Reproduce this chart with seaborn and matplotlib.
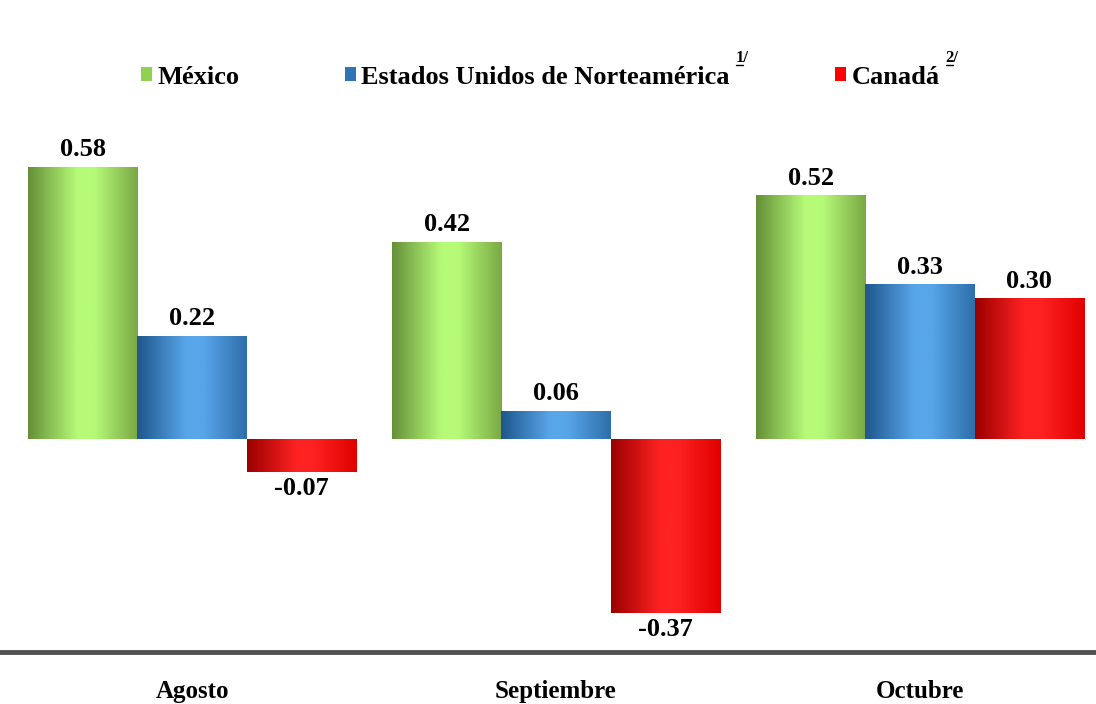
import numpy as np
import pandas as pd
import matplotlib
matplotlib.use('Agg')
import matplotlib.pyplot as plt
import matplotlib.colors as mcolors
from matplotlib.patches import Patch
from matplotlib.lines import Line2D
import seaborn as sns

# data
months = ['Agosto', 'Septiembre', 'Octubre']
countries = ['México', 'Estados Unidos de Norteamérica', 'Canadá']
mexico = [0.58, 0.42, 0.52]
usa = [0.22, 0.06, 0.33]
canada = [-0.07, -0.37, 0.30]
notes = ['', '1/', '2/']

colors = ['#92d050', '#2e75b6', '#ff0000']
# edge / centre / edge for the cylinder look
shades = [('#668f38', '#b6fb78', '#7ba845'),
          ('#1f568c', '#58a6ea', '#2e6eaa'),
          ('#9a0000', '#ff2222', '#e00000')]

df = pd.DataFrame({
    'Mes': months * 3,
    'País': [countries[0]] * 3 + [countries[1]] * 3 + [countries[2]] * 3,
    'Valor': mexico + usa + canada,
})

sns.set_style('white')
plt.rcParams['font.family'] = ['Liberation Serif', 'DejaVu Serif']
plt.rcParams['font.weight'] = 'bold'

fig = plt.figure(figsize=(10.96, 7.04), dpi=100)
ax = fig.add_axes([0, 52 / 704, 1, 1 - 52 / 704])

sns.barplot(data=df, x='Mes', y='Valor', hue='País', hue_order=countries,
            palette=colors, width=0.9, saturation=1, ax=ax, legend=False,
            edgecolor='none', linewidth=0)

# horizontal gradient on every bar, clipped to the bar
for container, (left, mid, right) in zip(ax.containers, shades):
    cmap = mcolors.LinearSegmentedColormap.from_list(
        'c', [(0, left), (0.45, mid), (0.6, mid), (1, right)])
    grad = np.linspace(0, 1, 256).reshape(1, -1)
    for bar in container:
        x0, y0 = bar.get_x(), bar.get_y()
        w, h = bar.get_width(), bar.get_height()
        im = ax.imshow(grad, cmap=cmap, aspect='auto', extent=[x0, x0 + w, y0, y0 + h],
                       zorder=bar.get_zorder() + 0.1, interpolation='bicubic')
        im.set_clip_path(bar)
    ax.bar_label(container, fmt='%.2f', padding=4, fontsize=19, fontweight='bold',
                 color='black')

ax.set_xlim(-192 / 364, 2 + 176 / 364)
ax.set_ylim(-213 / 469, 439 / 469)

ax.set_xlabel('')
ax.set_ylabel('')
ax.set_yticks([])
ax.tick_params(axis='x', length=0, pad=20, labelsize=18, labelcolor='black')
for lab in ax.get_xticklabels():
    lab.set_fontweight('bold')
for s in ['top', 'left', 'right']:
    ax.spines[s].set_visible(False)
ax.spines['bottom'].set_linewidth(3.5)
ax.spines['bottom'].set_color('#505050')

handles = [Patch(facecolor=c, edgecolor='none') for c in colors]
leg = ax.legend(handles, countries, loc='center', bbox_to_anchor=(0.493, 1 - 77 / 652),
                ncol=3, frameon=False, fontsize=19, handlelength=0.42, handleheight=0.42,
                handletextpad=0.2, columnspacing=4.0, labelcolor='black')
for t in leg.get_texts():
    t.set_fontweight('bold')

fig.canvas.draw()
renderer = fig.canvas.get_renderer()
W, H = fig.bbox.width, fig.bbox.height
for t, n in zip(leg.get_texts(), notes):
    if not n:
        continue
    bb = t.get_window_extent(renderer)
    st = fig.text((bb.x1 + 6) / W, (bb.y1 - 1) / H, n, fontsize=12,
                  fontweight='bold', ha='left', va='bottom', color='black')
    sb = st.get_window_extent(renderer)
    fig.add_artist(Line2D([sb.x0 / W, (sb.x0 + 0.55 * sb.width) / W],
                          [(sb.y0 + 1.5) / H] * 2, color='black', lw=1))

fig.savefig('out.png', dpi=100)
